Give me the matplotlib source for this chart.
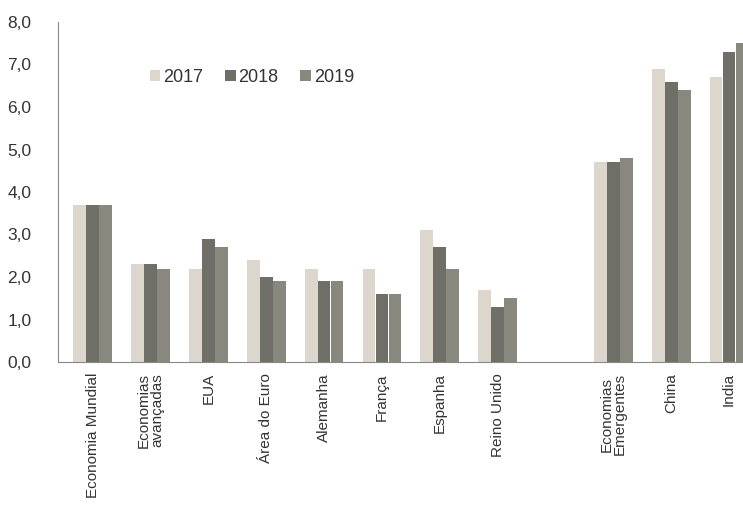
import numpy as np
import matplotlib.pyplot as plt
from matplotlib.ticker import FuncFormatter

plt.rcParams['font.family'] = ['Liberation Sans', 'DejaVu Sans']

# Dados
categorias = ['Economia Mundial', 'Economias\navançadas', 'EUA', 'Área do Euro',
              'Alemanha', 'França', 'Espanha', 'Reino Unido', '',
              'Economias\nEmergentes', 'China', 'India']
v2017 = [3.7, 2.3, 2.2, 2.4, 2.2, 2.2, 3.1, 1.7, np.nan, 4.7, 6.9, 6.7]
v2018 = [3.7, 2.3, 2.9, 2.0, 1.9, 1.6, 2.7, 1.3, np.nan, 4.7, 6.6, 7.3]
v2019 = [3.7, 2.2, 2.7, 1.9, 1.9, 1.6, 2.2, 1.5, np.nan, 4.8, 6.4, 7.5]
anos = ['2017', '2018', '2019']
cores = ['#dcd6cc', '#6f6f68', '#88887f']

x = np.arange(len(categorias))
w = 0.22

fig = plt.figure(figsize=(7.43, 5.23), dpi=100)
ax = fig.add_axes([58/743, 1 - 362/523, 1 - 58/743, 340/523])

for i, (vals, ano, cor) in enumerate(zip([v2017, v2018, v2019], anos, cores)):
    ax.bar(x + (i - 1) * w * 1.02, vals, width=w, color=cor, label=ano)

ax.set_xlim(-0.6, 11.24)
ax.set_ylim(0, 8)
ax.set_yticks(np.arange(0, 8.1, 1))
ax.yaxis.set_major_formatter(FuncFormatter(lambda v, p: f'{v:.1f}'.replace('.', ',')))
ax.tick_params(axis='y', labelsize=12.5, length=0, labelcolor='#333333', pad=19)
ax.set_xticks(x)
ax.set_xticklabels(categorias, rotation=90, fontsize=11, color='#333333', va='top', ha='center',
                   linespacing=0.95)
ax.tick_params(axis='x', length=0, pad=8)

for s in ['top', 'right']:
    ax.spines[s].set_visible(False)
for s in ['left', 'bottom']:
    ax.spines[s].set_color('#888888')

ax.legend(loc='upper left', bbox_to_anchor=(0.11, 0.91), ncol=3, frameon=False,
          fontsize=13, handlelength=0.6, handleheight=0.6, handletextpad=0.15,
          columnspacing=1.2, labelcolor='#333333')

plt.savefig('out.png', dpi=100)
